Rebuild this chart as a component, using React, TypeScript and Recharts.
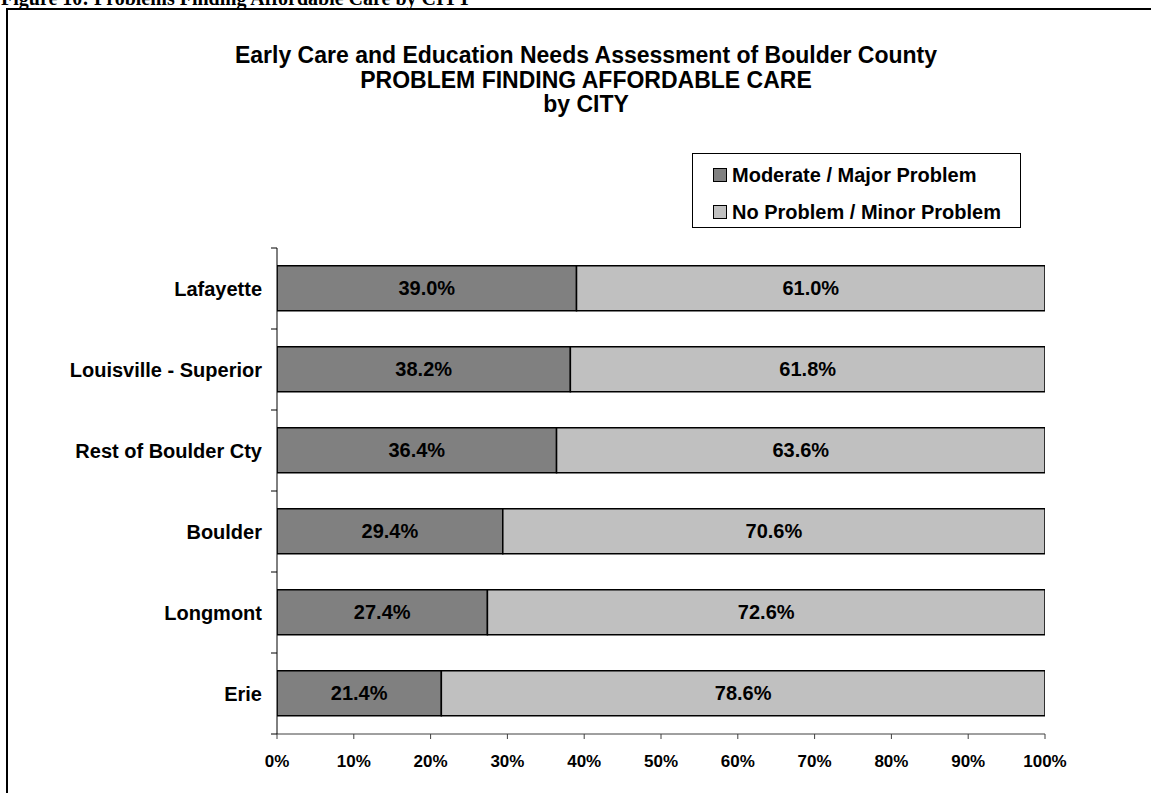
import React from "react";
import { BarChart, Bar, XAxis, YAxis, LabelList } from "recharts";

const cities = [
  "Lafayette",
  "Louisville - Superior",
  "Rest of Boulder Cty",
  "Boulder",
  "Longmont",
  "Erie",
];
const majorProblem = [39.0, 38.2, 36.4, 29.4, 27.4, 21.4];
const minorProblem = [61.0, 61.8, 63.6, 70.6, 72.6, 78.6];
const xTicks = [0, 10, 20, 30, 40, 50, 60, 70, 80, 90, 100];
const seriesNames = ["Moderate / Major Problem", "No Problem / Minor Problem"];
const seriesColors = ["#808080", "#C0C0C0"];

const titleLines = [
  "Early Care and Education Needs Assessment of Boulder County",
  "PROBLEM FINDING AFFORDABLE CARE",
  "by CITY",
];
const caption = "Figure 10: Problems Finding Affordable Care by CITY";

const data = cities.map((c, i) => ({
  city: c,
  major: majorProblem[i],
  minor: minorProblem[i],
}));

const W = 1151;
const H = 793;
const M = { top: 248, right: 106, bottom: 29, left: 0 };
const Y_W = 277;
const X_H = 30;
const PLOT_H = H - M.top - M.bottom - X_H;
const STEP = PLOT_H / cities.length;
const FONT = "'Liberation Sans', Arial, Helvetica, sans-serif";

const YTick = (props: any) => {
  const { x, y, payload, index } = props;
  const axisX = x + 15;
  const top = y - STEP / 2;
  const bottom = y + STEP / 2;
  return (
    <g>
      <line x1={axisX - 6} x2={axisX} y1={top} y2={top} stroke="#000" strokeWidth={1} />
      {index === cities.length - 1 && (
        <line x1={axisX - 6} x2={axisX} y1={bottom} y2={bottom} stroke="#000" strokeWidth={1} />
      )}
      <text
        x={x}
        y={y}
        textAnchor="end"
        dominantBaseline="central"
        fontFamily={FONT}
        fontWeight="bold"
        fontSize={20}
        fill="#000"
      >
        {payload.value}
      </text>
    </g>
  );
};

const LegendBox = () => (
  <div
    style={{
      position: "absolute",
      left: 692,
      top: 153,
      width: 329,
      height: 75,
      border: "1px solid #000",
      background: "#fff",
      fontFamily: FONT,
      fontWeight: "bold",
      fontSize: 20,
      color: "#000",
      boxSizing: "border-box",
      paddingLeft: 20,
      paddingTop: 6,
    }}
  >
    {seriesNames.map((n, i) => (
      <div key={n} style={{ display: "flex", alignItems: "center", height: 30, marginBottom: i === 0 ? 7 : 0 }}>
        <span
          style={{
            display: "inline-block",
            width: 12,
            height: 12,
            background: seriesColors[i],
            border: "1px solid #000",
            marginRight: 5,
          }}
        />
        <span>{n}</span>
      </div>
    ))}
  </div>
);

export default function App() {
  return (
    <div style={{ position: "fixed", left: 0, top: 0, width: W, height: H, background: "#fff", overflow: "hidden" }}>
      <div
        style={{
          position: "absolute",
          left: 1,
          top: -13,
          fontFamily: "'Liberation Serif', 'Times New Roman', serif",
          fontWeight: "bold",
          fontSize: 20,
          whiteSpace: "nowrap",
          lineHeight: "22px",
        }}
      >
        {caption}
      </div>
      <div
        style={{
          position: "absolute",
          left: 6,
          top: 8,
          width: W,
          height: H,
          borderTop: "2px solid #000",
          borderLeft: "2px solid #000",
        }}
      />
      <div
        style={{
          position: "absolute",
          left: 0,
          width: 1172,
          top: 43,
          textAlign: "center",
          fontFamily: FONT,
          fontWeight: "bold",
          fontSize: 23,
          lineHeight: "24.5px",
          color: "#000",
        }}
      >
        {titleLines.map((t) => (
          <div key={t}>{t}</div>
        ))}
      </div>
      <div style={{ position: "absolute", left: 0, top: 0 }}>
        <BarChart width={W} height={H} data={data} layout="vertical" margin={M} barCategoryGap="22%">
          <XAxis
            type="number"
            domain={[0, 100]}
            ticks={xTicks}
            tickFormatter={(v: number) => `${v}%`}
            height={X_H}
            tickSize={5}
            tickMargin={16}
            stroke="#404040"
            tick={{ fill: "#000", fontFamily: FONT, fontWeight: "bold", fontSize: 17 }}
            allowDataOverflow
          />
          <YAxis
            type="category"
            dataKey="city"
            width={Y_W}
            tickSize={0}
            tickMargin={15}
            stroke="#000"
            tick={<YTick />}
            interval={0}
          />
          <Bar
            dataKey="major"
            name={seriesNames[0]}
            stackId="a"
            fill={seriesColors[0]}
            stroke="#000"
            strokeWidth={1.5}
            isAnimationActive={false}
          >
            <LabelList
              dataKey="major"
              position="center"
              formatter={(v: any) => `${Number(v).toFixed(1)}%`}
              fill="#000"
              style={{ fontFamily: FONT, fontWeight: "bold", fontSize: 20 }}
            />
          </Bar>
          <Bar
            dataKey="minor"
            name={seriesNames[1]}
            stackId="a"
            fill={seriesColors[1]}
            stroke="#000"
            strokeWidth={1.5}
            isAnimationActive={false}
          >
            <LabelList
              dataKey="minor"
              position="center"
              formatter={(v: any) => `${Number(v).toFixed(1)}%`}
              fill="#000"
              style={{ fontFamily: FONT, fontWeight: "bold", fontSize: 20 }}
            />
          </Bar>
        </BarChart>
      </div>
      <LegendBox />
    </div>
  );
}
